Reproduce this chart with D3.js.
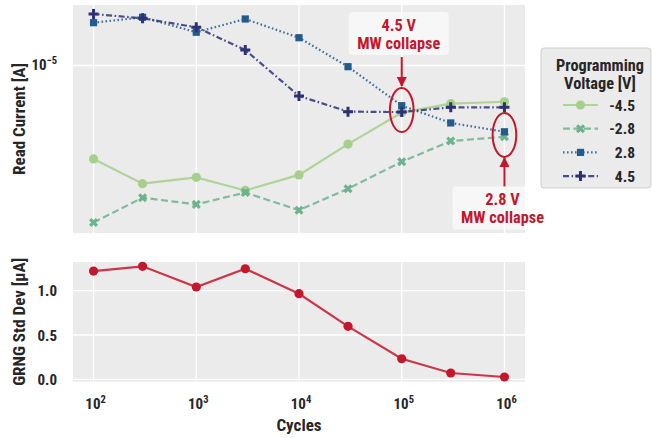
<!DOCTYPE html>
<html><head><meta charset="utf-8">
<script src="https://cdn.jsdelivr.net/npm/d3@7"></script>
<style>
html,body{margin:0;padding:0;background:#fff;}
text{font-family:'Liberation Sans Narrow','Arial Narrow','Roboto Condensed','Liberation Sans',sans-serif;}
</style></head>
<body><svg id="c" width="652" height="438"></svg>
<script>
const cycles = [1e2, 3e2, 1e3, 3e3, 1e4, 3e4, 1e5, 3e5, 1e6];
const voltages = ["-4.5", "-2.8", "2.8", "4.5"];
const iNeg45 = [3.86e-6, 3.00e-6, 3.20e-6, 2.80e-6, 3.28e-6, 4.49e-6, 6.19e-6, 6.78e-6, 6.91e-6];
const iNeg28 = [2.02e-6, 2.60e-6, 2.43e-6, 2.74e-6, 2.29e-6, 2.85e-6, 3.75e-6, 4.63e-6, 4.84e-6];
const iPos28 = [1.547e-5, 1.634e-5, 1.403e-5, 1.606e-5, 1.327e-5, 9.88e-6, 6.64e-6, 5.57e-6, 5.09e-6];
const iPos45 = [1.69e-5, 1.617e-5, 1.476e-5, 1.171e-5, 7.33e-6, 6.25e-6, 6.22e-6, 6.53e-6, 6.53e-6];
const grngStd = [1.222, 1.275, 1.042, 1.248, 0.966, 0.598, 0.232, 0.071, 0.026];
const xTicks = [1e2, 1e3, 1e4, 1e5, 1e6];
const yTopTicks = [1e-5];
const yBotTicks = [0.0, 0.5, 1.0];
const annotations = [
  {label: ["4.5 V", "MW collapse"], x: 1e5, y: 6.35e-6, where: "above"},
  {label: ["2.8 V", "MW collapse"], x: 1e6, y: 4.93e-6, where: "below"}
];

const svg = d3.select("#c");
const L = 73, R = 525;
const top1 = 5, bot1 = 233, top2 = 262, bot2 = 381.7;
const x = d3.scaleLog().domain([Math.pow(10,1.8), Math.pow(10,6.2)]).range([L, R]);
const y1 = d3.scaleLog().domain([1.815e-6, 1.852e-5]).range([bot1, top1]);
const y2 = d3.scaleLinear().domain([-0.027, 1.324]).range([bot2, top2]);
const bg = "#ebebeb", red = "#c3182b", ink = "#262626";

// panels
svg.append("rect").attr("x", L).attr("y", top1).attr("width", R-L).attr("height", bot1-top1).attr("fill", bg);
svg.append("rect").attr("x", L).attr("y", top2).attr("width", R-L).attr("height", bot2-top2).attr("fill", bg);

function grid(yScale, ticks, t, b) {
  const g = svg.append("g");
  g.selectAll(".vx").data(xTicks).join("line").attr("x1", d=>x(d)).attr("x2", d=>x(d))
    .attr("y1", t).attr("y2", b).attr("stroke", "#fff").attr("stroke-width", 1.3);
  g.selectAll(".hy").data(ticks).join("line").attr("x1", L).attr("x2", R)
    .attr("y1", d=>yScale(d)).attr("y2", d=>yScale(d)).attr("stroke", "#fff").attr("stroke-width", 1.3);
}
grid(y1, yTopTicks, top1, bot1);
grid(y2, yBotTicks, top2, bot2);

// y tick labels
const tl = svg.append("g").attr("font-weight", "bold").attr("fill", ink).attr("font-size", 15).attr("text-anchor", "end");
yTopTicks.forEach(d => {
  const t = tl.append("text").attr("x", 57).attr("y", y1(d) + 5);
  t.append("tspan").text("10");
  t.append("tspan").attr("font-size", 10.5).attr("dy", -6.5).text(String(Math.round(Math.log10(d))).replace("-", "−"));
});
yBotTicks.forEach(d => {
  tl.append("text").attr("x", 57).attr("y", y2(d) + 5.5).text(d.toFixed(1));
});
// x tick labels
xTicks.forEach(d => {
  const t = tl.append("text").attr("text-anchor", "middle").attr("x", x(d) + 2).attr("y", 409);
  t.append("tspan").text("10");
  t.append("tspan").attr("font-size", 10.5).attr("dy", -6.5).text(String(Math.round(Math.log10(d))));
});

// axis labels
const al = svg.append("g").attr("font-weight", "bold").attr("fill", ink).attr("font-size", 17).attr("text-anchor", "middle");
al.append("text").attr("transform", `translate(24.5,${(top1+bot1)/2}) rotate(-90)`).text("Read Current [A]");
al.append("text").attr("transform", `translate(24.5,${(top2+bot2)/2}) rotate(-90)`).text("GRNG Std Dev [μA]");
al.append("text").attr("x", x(1e4)).attr("y", 431).text("Cycles");

// series
const series = [
  {name: voltages[0], vals: iNeg45, color: "#a5cf8a", dash: null, marker: "circle"},
  {name: voltages[1], vals: iNeg28, color: "#6cb38e", dash: "7,3.5", marker: "x"},
  {name: voltages[2], vals: iPos28, color: "#245b8d", dash: "1.6,2.4", marker: "square"},
  {name: voltages[3], vals: iPos45, color: "#2d3277", dash: "6,2.5,1.6,2.5", marker: "plus"}
];
const line = d3.line().x(d=>x(d[0])).y(d=>y1(d[1]));

function drawMarker(g, type, cx, cy, color) {
  if (type === "circle") {
    g.append("circle").attr("cx", cx).attr("cy", cy).attr("r", 4.6).attr("fill", color);
  } else if (type === "square") {
    g.append("rect").attr("x", cx-3.6).attr("y", cy-3.6).attr("width", 7.2).attr("height", 7.2).attr("fill", color);
  } else if (type === "x") {
    const p = d3.path(); const s = 3.4;
    p.moveTo(cx-s, cy-s); p.lineTo(cx+s, cy+s); p.moveTo(cx+s, cy-s); p.lineTo(cx-s, cy+s);
    g.append("path").attr("d", p.toString()).attr("stroke", color).attr("stroke-width", 3.2).attr("fill", "none");
  } else if (type === "plus") {
    const p = d3.path(); const s = 5;
    p.moveTo(cx-s, cy); p.lineTo(cx+s, cy); p.moveTo(cx, cy-s); p.lineTo(cx, cy+s);
    g.append("path").attr("d", p.toString()).attr("stroke", color).attr("stroke-width", 3).attr("fill", "none");
  }
}

series.forEach(s => {
  const pts = cycles.map((c,i) => [c, s.vals[i]]);
  const g = svg.append("g");
  g.append("path").attr("d", line(pts)).attr("fill", "none").attr("stroke", s.color)
    .attr("stroke-width", 2.2).attr("stroke-opacity", 0.85).attr("stroke-dasharray", s.dash);
  pts.forEach(p => drawMarker(g, s.marker, x(p[0]), y1(p[1]), s.color));
});

// bottom series
const line2 = d3.line().x(d=>x(d[0])).y(d=>y2(d[1]));
const pts2 = cycles.map((c,i)=>[c, grngStd[i]]);
svg.append("path").attr("d", line2(pts2)).attr("fill", "none").attr("stroke", red).attr("stroke-width", 2.2).attr("stroke-opacity", 0.85);
svg.append("g").selectAll("circle").data(pts2).join("circle")
  .attr("cx", d=>x(d[0])).attr("cy", d=>y2(d[1])).attr("r", 4.6).attr("fill", red);

// annotations
svg.append("defs").append("marker").attr("id", "ah").attr("viewBox", "0 0 10 10").attr("refX", 9).attr("refY", 5)
  .attr("markerWidth", 10).attr("markerHeight", 10).attr("markerUnits", "userSpaceOnUse").attr("orient", "auto")
  .append("path").attr("d", "M0,0 L10,5 L0,10 z").attr("fill", red);

annotations.forEach(a => {
  const cx = x(a.x), cy = y1(a.y);
  const rx = 11.8, ry = 22;
  svg.append("ellipse").attr("cx", cx).attr("cy", cy).attr("rx", rx).attr("ry", ry)
    .attr("fill", "none").attr("stroke", red).attr("stroke-width", 2);
  const g = svg.append("g");
  let boxY, arrowFrom, arrowTo, tcx = cx - 3;
  if (a.where === "above") { boxY = top1 + 7; arrowFrom = boxY + 45; arrowTo = cy - ry - 2; }
  else { boxY = cy + 51.5; arrowFrom = boxY; arrowTo = cy + ry + 1; tcx = cx - 2; }
  g.append("rect").attr("x", tcx - 50).attr("y", boxY).attr("width", 100).attr("height", 43)
    .attr("rx", 4).attr("fill", "#fff").attr("fill-opacity", 0.6);
  g.append("line").attr("x1", cx).attr("x2", cx).attr("y1", arrowFrom).attr("y2", arrowTo)
    .attr("stroke", red).attr("stroke-width", 2).attr("marker-end", "url(#ah)");
  a.label.forEach((t, i) => {
    g.append("text").attr("x", tcx).attr("y", boxY + 18.5 + i*18.5).attr("text-anchor", "middle")
      .attr("font-size", 16.3).attr("font-weight", "bold").attr("fill", red).text(t);
  });
});

// legend
const lg = svg.append("g");
lg.append("rect").attr("x", 541).attr("y", 48).attr("width", 110).attr("height", 140).attr("rx", 3)
  .attr("fill", bg).attr("stroke", "#cfcfcf").attr("stroke-width", 1);
lg.append("text").attr("x", 600).attr("y", 70.5).attr("text-anchor", "middle").attr("font-size", 16.3).attr("font-weight", "bold").attr("fill", ink).text("Programming");
lg.append("text").attr("x", 600).attr("y", 89).attr("text-anchor", "middle").attr("font-size", 16.3).attr("font-weight", "bold").attr("fill", ink).text("Voltage [V]");
series.forEach((s, i) => {
  const yy = 105 + i*23.7;
  lg.append("line").attr("x1", 563).attr("x2", 598).attr("y1", yy).attr("y2", yy).attr("stroke", s.color)
    .attr("stroke-width", 2.2).attr("stroke-opacity", 0.85).attr("stroke-dasharray", s.dash);
  drawMarker(lg, s.marker, 580.5, yy, s.color);
  lg.append("text").attr("x", 635).attr("y", yy + 5.5).attr("text-anchor", "end").attr("font-size", 15.5)
    .attr("font-weight", "bold").attr("fill", ink).text(s.name);
});
</script></body></html>
